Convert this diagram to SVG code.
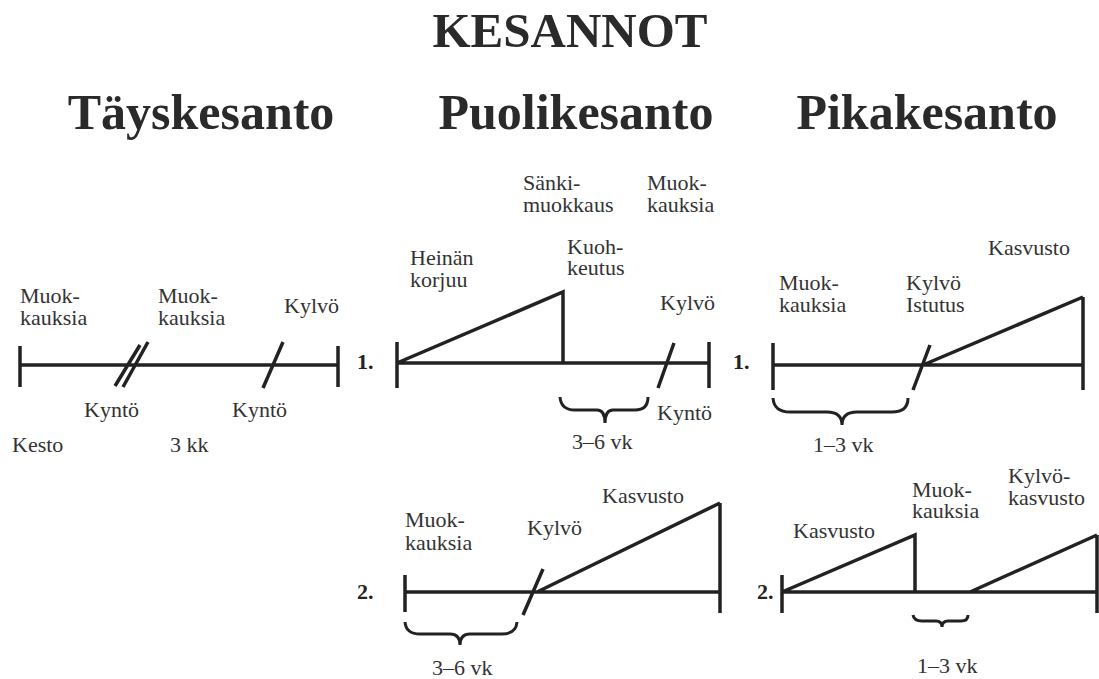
<svg xmlns="http://www.w3.org/2000/svg" width="1099" height="679" viewBox="0 0 1099 679">
<style>
text{font-family:"Liberation Serif","Times New Roman",serif;fill:#333}
.t{font-size:49px;font-weight:bold;fill:#2a2a2a}
.h{font-size:50px;font-weight:bold;fill:#2a2a2a}
.l{font-size:22px}
.n{font-size:22px;font-weight:bold;fill:#222}
.s{stroke:#222;stroke-width:3.5;fill:none;stroke-linecap:butt}
.b{stroke:#222;stroke-width:3;fill:none}
</style>
<rect width="1099" height="679" fill="#fff"/>
<g id="titles">
<text class="t" x="570" y="47" text-anchor="middle">KESANNOT</text>
<text class="h" x="201" y="129" text-anchor="middle">Täyskesanto</text>
<text class="h" x="576" y="129" text-anchor="middle">Puolikesanto</text>
<text class="h" x="927" y="129" text-anchor="middle">Pikakesanto</text>
</g>
<g id="taysk">
<path class="s" d="M20 346V387M338 346V387M20 365H338M115 386L140 345M123 387L148 342M263 388L283 342"/>
<text class="l" x="20" y="303">Muok-</text>
<text class="l" x="20" y="325">kauksia</text>
<text class="l" x="158" y="303">Muok-</text>
<text class="l" x="158" y="325">kauksia</text>
<text class="l" x="284" y="313">Kylvö</text>
<text class="l" x="84" y="417">Kyntö</text>
<text class="l" x="232" y="417">Kyntö</text>
<text class="l" x="12" y="452">Kesto</text>
<text class="l" x="170" y="452">3 kk</text>
</g>
<g id="puoli1">
<text class="n" x="357" y="369">1.</text>
<path class="s" d="M397 342V388M709 342V388M397 363H709M397 363L563 292V363M658 388L674 343"/>
<path class="b" d="M560 397Q561 410 575 410L597 410Q605 410 605 423Q605 410 613 410L635 410Q648 410 648 397"/>
<text class="l" x="523" y="190">Sänki-</text>
<text class="l" x="523" y="212">muokkaus</text>
<text class="l" x="647" y="190">Muok-</text>
<text class="l" x="647" y="212">kauksia</text>
<text class="l" x="410" y="265">Heinän</text>
<text class="l" x="410" y="287">korjuu</text>
<text class="l" x="567" y="254">Kuoh-</text>
<text class="l" x="567" y="275">keutus</text>
<text class="l" x="660" y="310">Kylvö</text>
<text class="l" x="657" y="420">Kyntö</text>
<text class="l" x="572" y="449">3–6 vk</text>
</g>
<g id="pika1">
<text class="n" x="733" y="369">1.</text>
<path class="s" d="M773 343V390M1083 297V390M773 365H1083M923 365L1083 297M913 390L930 345"/>
<path class="b" d="M773 398Q774 412 790 412L827 412Q842 412 842 425Q842 412 857 412L892 412Q908 412 908 398"/>
<text class="l" x="779" y="290">Muok-</text>
<text class="l" x="779" y="312">kauksia</text>
<text class="l" x="906" y="290">Kylvö</text>
<text class="l" x="906" y="312">Istutus</text>
<text class="l" x="988" y="255">Kasvusto</text>
<text class="l" x="813" y="452">1–3 vk</text>
</g>
<g id="puoli2">
<text class="n" x="357" y="599">2.</text>
<path class="s" d="M405 575V612M720 503V613M405 592H720M537 592L720 503M523 615L543 569"/>
<path class="b" d="M405 622Q406 634 420 634L450 634Q460 634 460 645Q460 634 470 634L502 634Q516 634 517 622"/>
<text class="l" x="405" y="527">Muok-</text>
<text class="l" x="405" y="550">kauksia</text>
<text class="l" x="527" y="535">Kylvö</text>
<text class="l" x="602" y="503">Kasvusto</text>
<text class="l" x="432" y="675">3–6 vk</text>
</g>
<g id="pika2">
<text class="n" x="757" y="599">2.</text>
<path class="s" d="M782 575V613M1097 535V613M782 592H1097M782 592L915 535V592M970 592L1097 535"/>
<path class="b" d="M913 615Q914 621 922 621L936 621Q942 621 942 627Q942 621 948 621L961 621Q968 621 968 615"/>
<text class="l" x="793" y="538">Kasvusto</text>
<text class="l" x="912" y="497">Muok-</text>
<text class="l" x="912" y="518">kauksia</text>
<text class="l" x="1008" y="483">Kylvö-</text>
<text class="l" x="1008" y="505">kasvusto</text>
<text class="l" x="917" y="673">1–3 vk</text>
</g>
</svg>
